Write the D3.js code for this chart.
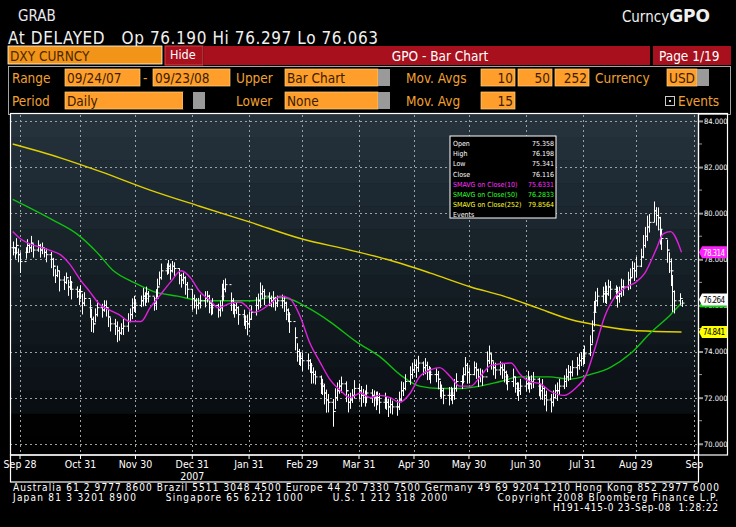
<!DOCTYPE html>
<html><head><meta charset="utf-8">
<script src="https://cdn.jsdelivr.net/npm/d3@7"></script>
<style>
body{margin:0;background:#000;}
svg{display:block;font-family:"DejaVu Sans Condensed","DejaVu Sans",sans-serif;}
</style></head>
<body><svg id="c" width="736" height="527"></svg>
<script>
// daily closes, one per weekday from 09/24/07 to 09/23/08
var closes = [
78.5,78.3,78.6,78.2,77.9, 78.3,78.6,78.5,78.7,78.4, 78.6,78.4,78.5,78.3,78.2, 78.0,77.7,77.3,77.5,77.1,
77.0,77.2,76.8,77.0,76.7, 76.6,76.4,76.6,76.1,76.3, 75.9,75.4,75.2,75.6,75.9, 75.8,76.0,75.9,75.5,75.2,
75.1,74.9,74.8,75.0,75.1, 75.3,75.6,75.9,76.1,76.0, 76.2,76.4,76.3,76.5,76.4, 76.1,76.3,76.8,77.2,77.5,
77.6,77.7,77.5,77.7,77.6, 77.3,77.1,77.2,76.9,76.7, 76.3,76.2,76.0,76.1,76.2, 76.3,76.4,76.1,75.9,76.0,
75.8,75.9,76.4,76.7,76.9, 76.2,76.0,75.8,75.9,75.6, 75.5,75.3,75.2,75.4,75.7, 76.0,76.2,76.5,76.6,76.4,
76.3,76.2,76.3,76.1,76.2, 76.2,76.1,75.8,75.6,75.3, 74.6,74.0,73.8,73.7,73.6, 73.6,73.4,73.1,73.0,72.9,
72.6,72.5,72.2,71.9,71.8, 71.4,72.0,72.3,72.5,72.6, 72.3,71.8,71.9,72.1,72.4, 72.3,72.1,72.1,72.0,72.2,
72.1,72.0,71.9,72.0,71.8, 71.9,71.8,71.6,71.7,71.6, 71.6,71.9,72.3,72.4,72.7, 73.0,73.2,73.4,73.3,73.5,
73.3,73.4,73.2,73.1,73.0, 73.0,72.8,72.4,72.3,72.1, 72.1,72.2,72.1,72.4,72.7, 72.7,73.0,73.4,73.1,73.0,
73.3,73.2,72.9,73.0,72.9, 73.6,73.9,73.6,73.3,73.2, 73.3,73.2,73.1,72.9,72.7, 72.9,72.6,72.4,72.3,72.5,
72.6,72.8,72.6,72.7,72.8, 72.5,72.3,72.4,72.1,71.9, 71.8,72.0,72.3,72.3,72.5, 72.7,72.9,73.1,73.1,73.3,
73.4,73.6,73.7,73.8,73.9, 74.3,74.9,75.7,76.2,76.4, 76.5,76.6,76.5,76.8,76.7, 76.6,76.4,76.5,76.8,76.8,
77.1,77.2,77.6,77.5,77.7, 78.1,78.6,79.0,79.4,79.6, 80.1,79.9,79.8,79.3,78.9, 78.4,77.9,77.5,76.6,76.2,
76.3,76.1
];
// daily high-low spans
var spans = [
0.6,0.5,0.7,0.6,0.9, 0.5,0.6,0.4,0.7,0.6, 0.5,0.6,0.5,0.4,0.6, 0.7,0.8,0.6,0.5,0.9,
0.6,0.5,0.7,0.6,0.8, 0.5,0.7,0.6,0.9,0.6, 0.8,1.0,0.7,0.6,0.7, 0.6,0.5,0.7,0.8,0.6,
0.7,0.9,0.6,0.5,0.7, 0.8,0.6,0.9,0.7,0.6, 0.5,0.8,0.6,0.7,0.5, 0.6,0.9,0.8,0.6,0.7,
0.5,0.6,0.7,0.5,0.6, 0.7,0.6,0.5,0.8,0.7, 0.9,0.6,0.7,0.5,0.6, 0.7,0.5,0.8,0.6,0.7,
0.6,0.7,1.2,0.9,0.6, 0.8,0.7,0.6,0.5,0.8, 0.7,0.6,0.9,0.7,0.6, 0.8,0.7,1.1,0.6,0.7,
0.6,0.5,0.7,0.6,0.5, 0.6,0.7,0.8,0.6,0.9, 1.0,0.8,0.7,0.6,0.8, 0.7,0.6,0.9,0.7,0.6,
0.8,0.7,0.9,1.0,0.8, 1.2,0.9,0.8,0.6,0.7, 0.9,0.8,0.7,0.6,0.8, 0.7,0.9,0.6,0.7,0.8,
0.6,0.7,0.8,0.6,0.9, 0.7,0.6,0.8,0.7,0.6, 0.7,0.8,0.9,0.6,0.7, 0.8,0.7,0.6,0.8,0.7,
0.6,0.7,0.8,0.6,0.7, 0.6,0.8,0.7,0.6,0.7, 0.8,0.6,0.7,0.9,0.8, 0.6,0.7,0.8,0.9,0.7,
0.6,0.7,0.8,0.6,0.7, 0.9,0.8,0.7,0.6,0.7, 0.6,0.7,0.8,0.6,0.7, 0.8,0.7,0.6,0.8,0.7,
0.6,0.8,0.7,0.6,0.7, 0.8,0.7,0.9,0.8,0.9, 0.8,0.7,0.6,0.8,0.7, 0.6,0.8,0.7,0.6,0.7,
0.8,0.7,0.6,0.7,0.8, 0.9,1.0,1.1,0.9,0.8, 0.7,0.9,0.8,0.7,0.8, 0.6,0.9,0.7,0.8,0.7,
0.8,0.9,0.7,0.8,0.9, 0.8,1.0,0.9,1.1,0.8, 0.9,0.8,1.0,1.2,0.9, 1.0,0.9,1.2,1.6,1.0,
0.5,0.3
];
// moving averages read at [calendar day after 09/24/07, value]
var sma10 = [[0,79.2],[4,78.9],[20,78.4],[26,78.2],[31,77.8],[37,77.1],[42,76.6],[48,76.0],[53,75.8],[58,75.6],[64,75.3],[70,75.3],
  [75,75.9],[80,76.4],[86,77.0],[92,77.5],[97,77.2],[102,76.6],[108,76.2],[112,75.9],[119,76.1],[124,76.15],[132,75.7],[141,76.1],
  [146,76.4],[151,76.3],[157,75.5],[162,74.4],[168,73.5],[173,72.8],[179,72.3],[184,72.0],[190,72.2],[195,72.0],[200,72.1],[206,72.0],
  [211,71.8],[217,72.2],[222,72.9],[228,73.2],[233,73.3],[239,72.9],[244,72.5],[250,72.5],[255,72.9],[261,73.4],[272,73.5],[277,73.0],
  [282,72.7],[288,72.6],[293,72.3],[301,72.1],[307,72.4],[313,73.0],[318,74.2],[323,75.5],[329,76.4],[335,76.8],[340,77.0],[345,77.4],
  [351,78.4],[355,79.1],[359,79.2],[365,78.3]];
var sma50 = [[0,80.6],[22,79.7],[35,79.1],[46,78.3],[55,77.5],[66,77.0],[77,76.6],[90,76.4],[104,76.2],[119,76.2],[130,76.2],[141,76.35],
  [150,76.3],[161,75.9],[173,75.3],[188,74.4],[200,73.8],[213,72.9],[222,72.5],[233,72.4],[244,72.4],[255,72.5],[266,72.7],[277,72.9],
  [293,72.9],[304,72.8],[315,73.0],[326,73.3],[337,73.9],[348,74.8],[359,75.6],[365,76.1]];
var sma252 = [[0,83.0],[26,82.4],[48,81.8],[75,81.0],[102,80.3],[130,79.6],[157,78.9],[184,78.4],[204,78.0],[228,77.4],[250,76.8],
  [268,76.4],[286,75.9],[304,75.4],[322,75.1],[341,74.9],[365,74.85]];
var yTicks = [70,72,74,76,78,80,82,84];
var xTickDates = ["2007-09-28","2007-10-31","2007-11-30","2007-12-31","2008-01-31","2008-02-29","2008-03-31","2008-04-30","2008-05-30","2008-06-30","2008-07-31","2008-08-29","2008-09-30"];
var xTickLabels = ["Sep 28","Oct 31","Nov 30","Dec 31","Jan 31","Feb 29","Mar 31","Apr 30","May 30","Jun 30","Jul 31","Aug 29","Sep"];
var legendRows = [["Open","75.358","#fff"],["High","76.198","#fff"],["Low","75.341","#fff"],["Close","76.116","#fff"],
  ["SMAVG on Close(10)","75.6331","#ff30ff"],["SMAVG on Close(50)","76.2833","#30ff30"],["SMAVG on Close(252)","79.8564","#ffff30"],["Events","","#fff"]];
var footer = ["Australia 61 2 9777 8600 Brazil 5511 3048 4500 Europe 44 20 7330 7500 Germany 49 69 9204 1210 Hong Kong 852 2977 6000",
  "Japan 81 3 3201 8900       Singapore 65 6212 1000       U.S. 1 212 318 2000            Copyright 2008 Bloomberg Finance L.P.",
  "H191-415-0 23-Sep-08  1:28:22"];

var svg = d3.select("#c");
var parse = d3.timeParse("%Y-%m-%d");
var start = parse("2007-09-24");
var dates = [];
for (var d = start; dates.length < closes.length; d = d3.timeDay.offset(d, 1)) {
  if (d.getDay() != 0 && d.getDay() != 6) dates.push(d);
}
var bars = closes.map(function(c, i){
  return {date: dates[i], close: c, open: i ? closes[i-1] : c, hi: c + spans[i]*0.45, lo: c - spans[i]*0.55};
});

var L = 10, R = 698, T = 115, B = 455;
var x = d3.scaleTime().domain([start, parse("2008-10-02")]).range([L+2.7, R]);
var y = d3.scaleLinear().domain([69.6, 84.3]).range([453, 114]);
var orange = "#f0a030";

// header
svg.append("text").attr("x", 18).attr("y", 21).attr("fill", "#e8e8f0").attr("font-size", 15).text("GRAB");
var t = svg.append("text").attr("x", 710).attr("y", 22).attr("text-anchor", "end").attr("fill", "#f0f0f0").attr("font-size", 15);
t.append("tspan").text("Curncy");
t.append("tspan").attr("font-weight", "bold").attr("font-size", 17).attr("font-family", "DejaVu Sans").text("GPO");
svg.append("text").attr("x", 8).attr("y", 44).attr("fill", "#f0f0f0").attr("font-size", 17).attr("textLength", 370)
  .style("white-space", "pre").text("At DELAYED   Op 76.190 Hi 76.297 Lo 76.063");

svg.append("rect").attr("x", 8).attr("y", 46).attr("width", 154).attr("height", 18).attr("fill", "#f29418").attr("stroke", "#fff").attr("stroke-width", 0.8);
svg.append("text").attr("x", 10).attr("y", 61).attr("fill", "#4a2a00").attr("font-size", 13.5).text("DXY CURNCY");
svg.append("rect").attr("x", 165).attr("y", 46).attr("width", 38).attr("height", 19).attr("fill", "#a8101e").attr("stroke", "#e04040");
svg.append("text").attr("x", 170).attr("y", 59).attr("fill", "#fff").attr("font-size", 12.5).text("Hide");
svg.append("rect").attr("x", 204).attr("y", 46).attr("width", 446).attr("height", 19).attr("fill", "#a8101e");
svg.append("text").attr("x", 440).attr("y", 61).attr("text-anchor", "middle").attr("fill", "#fff").attr("font-size", 13.5).text("GPO - Bar Chart");
svg.append("rect").attr("x", 653).attr("y", 46).attr("width", 78).attr("height", 19).attr("fill", "#a8101e");
svg.append("text").attr("x", 659).attr("y", 61).attr("fill", "#fff").attr("font-size", 13.5).text("Page 1/19");

svg.append("rect").attr("x", 8.5).attr("y", 66.5).attr("width", 722).attr("height", 48).attr("fill", "none").attr("stroke", "#ccc").attr("stroke-width", 0.8);
function label(tx, xx, yy) {
  svg.append("text").attr("x", xx).attr("y", yy).attr("fill", orange).attr("font-size", 13.5).text(tx);
}
function box(tx, xx, yy, w, anchor, tail) {
  svg.append("rect").attr("x", xx).attr("y", yy).attr("width", w).attr("height", 17).attr("fill", "#ff9e2a").attr("stroke", "#ffd080").attr("stroke-width", 0.7);
  if (tail !== undefined) {
    svg.append("rect").attr("x", xx + w).attr("y", yy).attr("width", tail).attr("height", 17).attr("fill", "#000");
    svg.append("rect").attr("x", xx + w + tail).attr("y", yy).attr("width", 12).attr("height", 17).attr("fill", "#9a9a9a");
  }
  svg.append("text").attr("x", anchor == "end" ? xx + w - 2 : xx + 2).attr("y", yy + 14).attr("text-anchor", anchor)
    .attr("fill", "#3a2000").attr("font-size", 13.5).text(tx);
}
label("Range", 12, 83); box("09/24/07", 65, 69, 75, "start"); label("-", 143, 83); box("09/23/08", 153, 69, 77, "start");
label("Upper", 236, 83); box("Bar Chart", 285, 69, 93, "start", 0);
label("Mov. Avgs", 406, 83); box("10", 481, 69, 34, "end"); box("50", 518, 69, 34, "end"); box("252", 555, 69, 34, "end");
label("Currency", 595, 83); box("USD", 667, 69, 30, "start", 0);
label("Period", 12, 106); box("Daily", 65, 92, 118, "start", 10);
label("Lower", 236, 106); box("None", 285, 92, 93, "start", 0);
label("Mov. Avg", 406, 106); box("15", 481, 92, 34, "end");
svg.append("rect").attr("x", 665.5).attr("y", 96.5).attr("width", 9).attr("height", 9).attr("fill", "none").attr("stroke", "#ccc");
svg.append("rect").attr("x", 669).attr("y", 100).attr("width", 2).attr("height", 2).attr("fill", "#ccc");
label("Events", 678, 106);

// chart background bands
var bandCol = d3.scaleLinear().domain([84.3, 77, 72, 70.7]).range(["#26343e", "#141e24", "#0a1014", "#000"]);
d3.range(84.3, 69.6, -1).forEach(function(v){
  svg.append("rect").attr("x", L).attr("width", R - L).attr("y", y(v)).attr("height", y(v - 1) - y(v) + 0.5)
    .attr("fill", bandCol(Math.max(v - 0.5, 70.7)));
});
svg.append("rect").attr("x", L).attr("y", y(70.3)).attr("width", R - L).attr("height", B - y(70.3)).attr("fill", "#000");

// grid
svg.append("g").selectAll("line").data(yTicks).join("line")
  .attr("x1", L).attr("x2", R).attr("y1", function(d){ return Math.round(y(d)) + 0.5; }).attr("y2", function(d){ return Math.round(y(d)) + 0.5; })
  .attr("stroke", "#9aa0a4").attr("stroke-dasharray", "2,3").attr("stroke-width", 1);
svg.append("g").selectAll("line").data(xTickDates).join("line")
  .attr("x1", function(d){ return Math.round(x(parse(d))) + 0.5; }).attr("x2", function(d){ return Math.round(x(parse(d))) + 0.5; })
  .attr("y1", T).attr("y2", B).attr("stroke", "#9aa0a4").attr("stroke-dasharray", "2,3").attr("stroke-width", 1);

// moving averages
var line = d3.line().curve(d3.curveMonotoneX)
  .x(function(d){ return x(d3.timeDay.offset(start, d[0])); }).y(function(d){ return y(d[1]); });
svg.append("path").attr("d", line(sma252)).attr("fill", "none").attr("stroke", "#e0d000").attr("stroke-width", 1.4);
svg.append("path").attr("d", line(sma50)).attr("fill", "none").attr("stroke", "#10c010").attr("stroke-width", 1.4);

// bars
var g = svg.append("g").attr("stroke", "#fff").attr("stroke-width", 1);
bars.forEach(function(b){
  var bx = Math.round(x(b.date)) + 0.5;
  g.append("line").attr("x1", bx).attr("x2", bx).attr("y1", y(b.hi)).attr("y2", y(b.lo));
  g.append("line").attr("x1", bx - 2).attr("x2", bx).attr("y1", y(b.open)).attr("y2", y(b.open));
  g.append("line").attr("x1", bx).attr("x2", bx + 2).attr("y1", y(b.close)).attr("y2", y(b.close));
});
svg.append("path").attr("d", line(sma10)).attr("fill", "none").attr("stroke", "#e020e0").attr("stroke-width", 1.4);

// frame + right axis
svg.append("rect").attr("x", L + 0.5).attr("y", T - 1.5).attr("width", R - L).attr("height", B - T + 1.5).attr("fill", "none").attr("stroke", "#fff").attr("stroke-width", 1.2);
svg.append("rect").attr("x", R + 0.5).attr("y", T - 1.5).attr("width", 29).attr("height", B - T + 1.5).attr("fill", "none").attr("stroke", "#fff").attr("stroke-width", 1.2);
var ax = svg.append("g").attr("transform", "translate(" + (R + 1) + ",0)")
  .call(d3.axisRight(y).tickValues(yTicks).tickSize(4).tickFormat(d3.format(".3f")));
ax.select(".domain").remove();
ax.selectAll("line").attr("stroke", "#999").attr("stroke-width", 2);
ax.selectAll("text").attr("fill", "#fff").attr("font-size", 7.5).attr("x", 5).attr("font-family", "DejaVu Sans Condensed");
svg.append("g").selectAll("line").data([71,73,75,77,79,81,83]).join("line")
  .attr("x1", R + 1).attr("x2", R + 4).attr("y1", function(d){ return y(d); }).attr("y2", function(d){ return y(d); }).attr("stroke", "#999");

// price flags on axis
function flag(v, tx, fill, col) {
  var yy = y(v);
  svg.append("path").attr("d", "M" + (R + 1) + "," + yy + "l3,-6h25v12h-25z").attr("fill", fill);
  svg.append("text").attr("x", R + 5).attr("y", yy + 3.5).attr("fill", col).attr("font-size", 8).attr("textLength", 22)
    .attr("font-family", "DejaVu Sans Condensed").text(tx);
}
flag(sma10[sma10.length - 1][1], "78.314", "#ff20ff", "#fff");
svg.append("rect").attr("x", R + 2).attr("y", y(76.26) + 4).attr("width", 26).attr("height", 4).attr("fill", "#10d010");
flag(76.26, "76.264", "#fff", "#000");
flag(sma252[sma252.length - 1][1], "74.841", "#ffff00", "#000");

// x axis
svg.append("rect").attr("x", L + 0.5).attr("y", B).attr("width", R - L).attr("height", 27).attr("fill", "none").attr("stroke", "#fff").attr("stroke-width", 1.2);
svg.append("g").selectAll("text").data(xTickDates).join("text")
  .attr("x", function(d){ return x(parse(d)); }).attr("y", B + 13).attr("text-anchor", "middle").attr("fill", "#fff").attr("font-size", 10.5)
  .text(function(d, i){ return xTickLabels[i]; });
svg.append("g").selectAll("line").data(xTickDates).join("line")
  .attr("x1", function(d){ return x(parse(d)); }).attr("x2", function(d){ return x(parse(d)); }).attr("y1", B).attr("y2", B + 4).attr("stroke", "#fff");
svg.append("text").attr("x", x(parse("2007-12-31"))).attr("y", B + 25).attr("text-anchor", "middle").attr("fill", "#fff").attr("font-size", 10.5).text("2007");

// legend
var lg = svg.append("g").attr("transform", "translate(450,136)");
lg.append("rect").attr("width", 106).attr("height", 82).attr("fill", "#000").attr("stroke", "#fff").attr("stroke-width", 1);
legendRows.forEach(function(r, i){
  lg.append("text").attr("x", 3).attr("y", 10 + i * 10.2).attr("fill", r[2]).attr("font-size", 7).text(r[0]);
  lg.append("text").attr("x", 104).attr("y", 10 + i * 10.2).attr("text-anchor", "end").attr("fill", r[2]).attr("font-size", 7).text(r[1]);
});

// footer
var footLen = [706, 705, 165];
footer.forEach(function(f, i){
  svg.append("text").attr("x", i == 2 ? 718 : 13).attr("y", 491 + i * 10).attr("text-anchor", i == 2 ? "end" : "start")
    .attr("fill", "#fff").attr("font-size", 10).attr("textLength", footLen[i]).style("white-space", "pre").text(f);
});
</script></body></html>
